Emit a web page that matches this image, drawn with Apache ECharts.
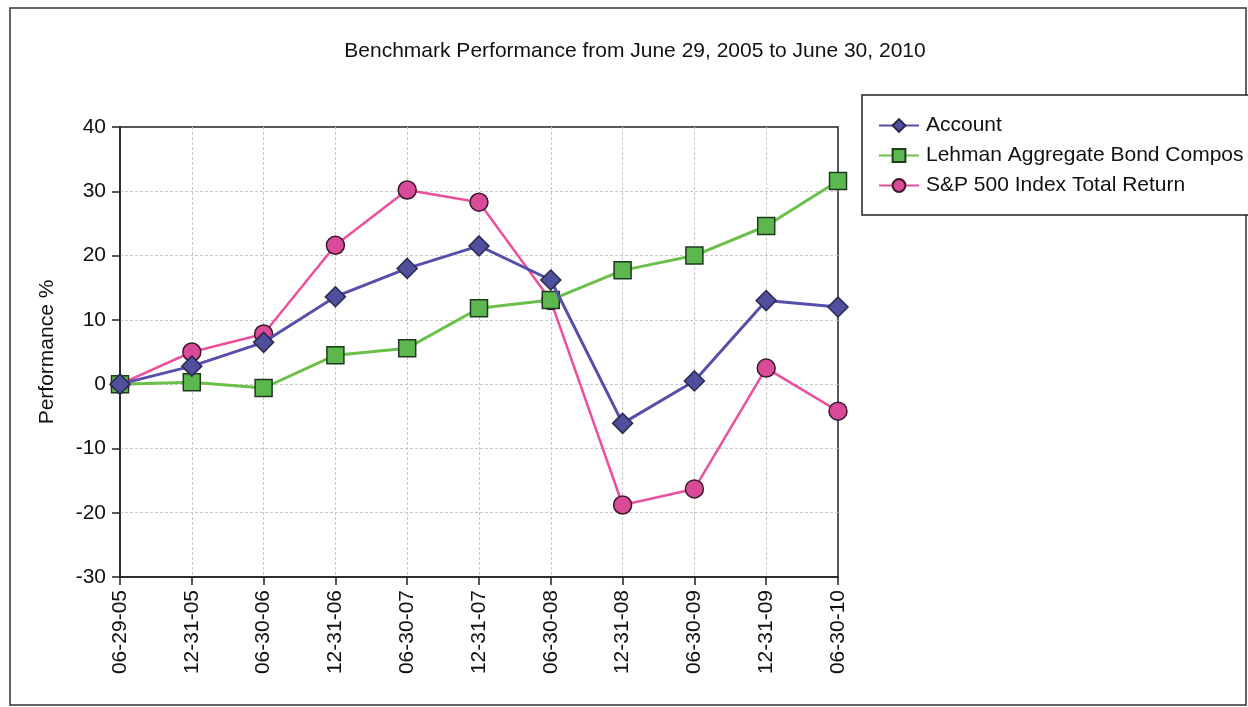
<!DOCTYPE html>
<html>
<head>
<meta charset="utf-8">
<script src="https://cdn.jsdelivr.net/npm/echarts@6/dist/echarts.min.js"></script>
<style>
  html, body { margin: 0; padding: 0; background: #fff; }
  #chart { width: 1248px; height: 707px; }
</style>
</head>
<body>
<div id="chart"></div>
<script>
  // dates (x axis)
  const dates = ['06-29-05', '12-31-05', '06-30-06', '12-31-06', '06-30-07', '12-31-07',
    '06-30-08', '12-31-08', '06-30-09', '12-31-09', '06-30-10']

  // performance %
  const account = [0, 2.8, 6.5, 13.6, 18.0, 21.5, 16.2, -6.1, 0.5, 13.0, 12.0]
  const lehman = [0, 0.3, -0.6, 4.5, 5.6, 11.8, 13.1, 17.7, 20.0, 24.6, 31.6]
  const sp500 = [0, 5.0, 7.8, 21.6, 30.2, 28.3, 13.0, -18.8, -16.3, 2.5, -4.2]

  const yTicks = { min: -30, max: 40, interval: 10 }

  const chart = echarts.init(document.getElementById('chart'))
  const font = 'Liberation Sans, Arial, sans-serif'

  const option = {
    backgroundColor: '#fff',
    animation: false,
    title: {
      text: 'Benchmark Performance from June 29, 2005 to June 30, 2010',
      left: 630,
      textAlign: 'center',
      top: 36,
      textStyle: { fontFamily: font, fontSize: 21, fontWeight: 'normal', color: '#111' }
    },
    graphic: [
      {
        type: 'rect',
        shape: { x: 10, y: 8, width: 1236, height: 697 },
        style: { fill: 'none', stroke: '#333', lineWidth: 1.5 },
        z: -1
      }
    ],
    legend: {
      orient: 'vertical',
      left: 862,
      top: 95,
      padding: [20, 12, 19, 16],
      itemGap: 9,
      itemWidth: 40,
      itemHeight: 16,
      borderColor: '#222',
      borderWidth: 1.5,
      backgroundColor: '#fff',
      textStyle: {
        fontFamily: font, fontSize: 21, color: '#111', padding: [0, 0, 0, 2],
        width: 320, overflow: 'truncate', ellipsis: ''
      },
      data: ['Account', 'Lehman Aggregate Bond Composite', 'S&P 500 Index Total Return']
    },
    grid: {
      left: 120,
      right: 410,
      top: 127,
      bottom: 130,
      show: true,
      borderColor: '#222',
      borderWidth: 1.5
    },
    xAxis: {
      type: 'category',
      data: dates,
      boundaryGap: false,
      axisLine: { onZero: false, lineStyle: { color: '#222', width: 1.5 } },
      axisTick: { show: true, length: 8, alignWithLabel: true, lineStyle: { color: '#222', width: 1.5 } },
      axisLabel: { rotate: 90, fontFamily: font, fontSize: 21, color: '#111', margin: 13 },
      splitLine: { show: true, showMinLine: false, showMaxLine: false, lineStyle: { color: '#c8c8c8', type: [3, 2] } }
    },
    yAxis: {
      type: 'value',
      min: yTicks.min,
      max: yTicks.max,
      interval: yTicks.interval,
      name: 'Performance %',
      nameLocation: 'middle',
      nameGap: 62,
      nameTextStyle: { fontFamily: font, fontSize: 21, color: '#111' },
      axisLine: { show: true, lineStyle: { color: '#222', width: 1.5 } },
      axisTick: { show: true, length: 8, lineStyle: { color: '#222', width: 1.5 } },
      axisLabel: { fontFamily: font, fontSize: 21, color: '#111', margin: 14 },
      splitLine: { show: true, showMinLine: false, showMaxLine: false, lineStyle: { color: '#c8c8c8', type: [3, 2] } }
    },
    series: [
      {
        name: 'Account',
        type: 'line',
        data: account,
        symbol: 'diamond',
        symbolSize: 20,
        z: 3,
        lineStyle: { color: '#5650aa', width: 3 },
        itemStyle: { color: '#4f4f9e', borderColor: '#2a2a50', borderWidth: 1.5 }
      },
      {
        name: 'Lehman Aggregate Bond Composite',
        type: 'line',
        data: lehman,
        symbol: 'rect',
        symbolSize: 17,
        z: 2,
        lineStyle: { color: '#6cc04a', width: 3 },
        itemStyle: { color: '#5cb84e', borderColor: '#1e3a1e', borderWidth: 1.5 }
      },
      {
        name: 'S&P 500 Index Total Return',
        type: 'line',
        data: sp500,
        symbol: 'circle',
        symbolSize: 18,
        z: 1,
        lineStyle: { color: '#ec4f9c', width: 2.5 },
        itemStyle: { color: '#d94a98', borderColor: '#3a1a2a', borderWidth: 1.5 }
      }
    ]
  }

  chart.setOption(option)
</script>
</body>
</html>
